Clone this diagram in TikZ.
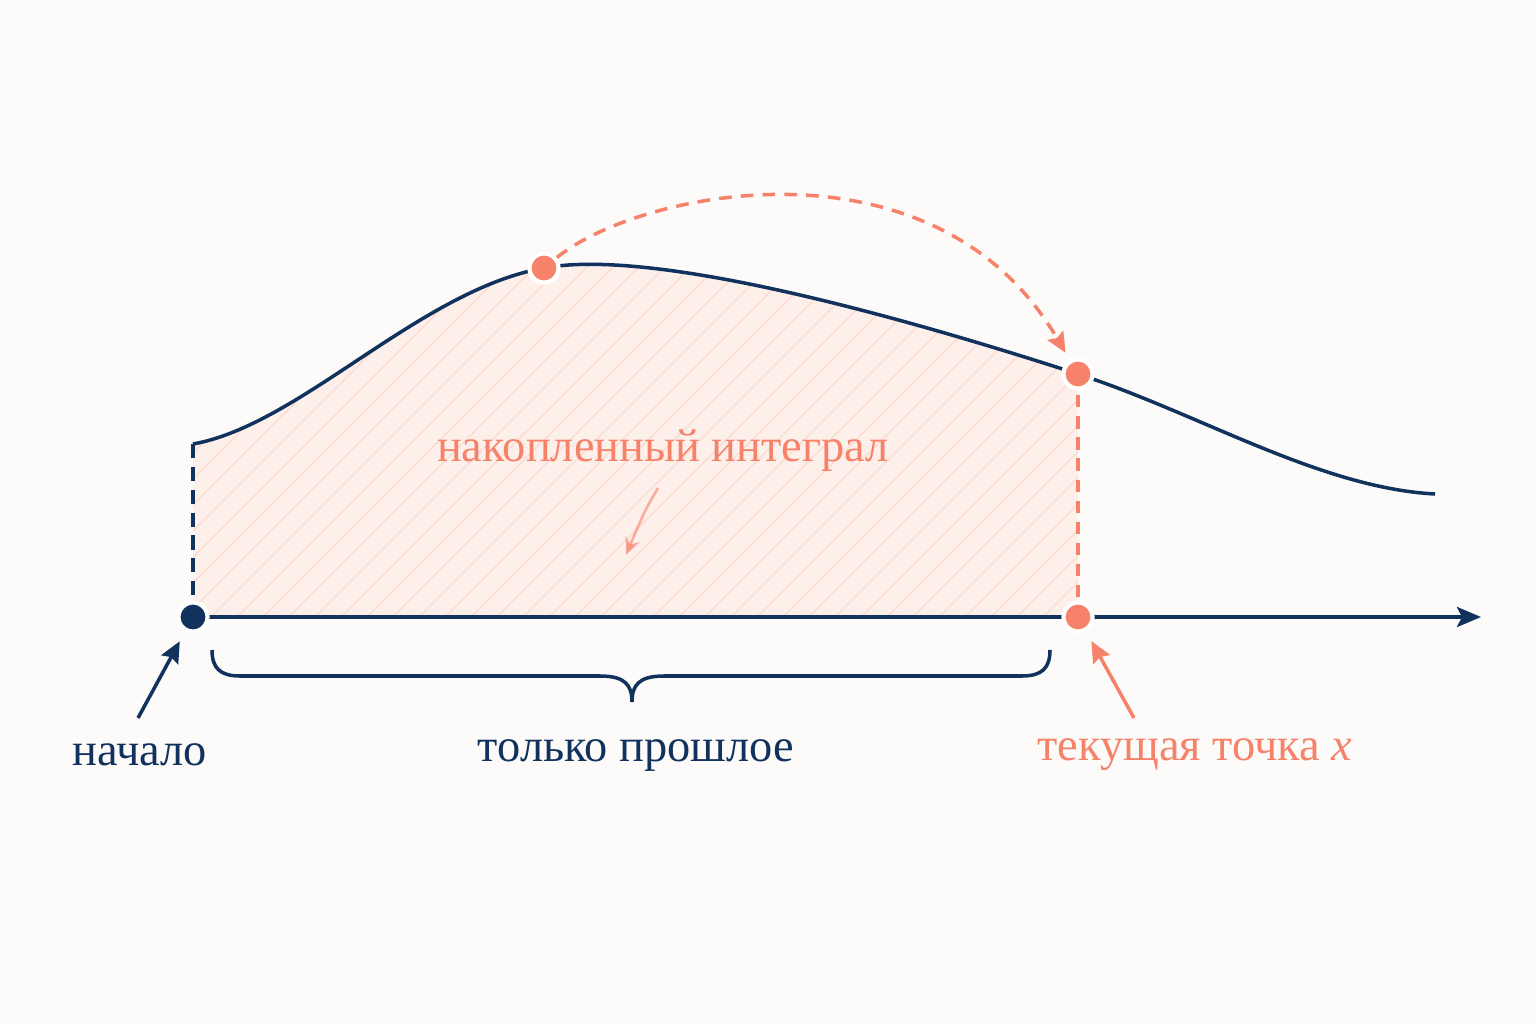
\documentclass[tikz,border=0pt]{standalone}
\usepackage{fontspec}
\setmainfont{Liberation Serif}
\usetikzlibrary{arrows.meta}
\definecolor{bgc}{HTML}{FCFBF9}
\definecolor{navy}{HTML}{12325E}
\definecolor{coral}{HTML}{F7826A}
\definecolor{fillc}{HTML}{FDF0EA}
\tikzset{
  dotc/.style={circle,fill=coral,draw=white,line width=1.2pt,minimum size=0.29cm,inner sep=0pt},
  dotn/.style={circle,fill=navy,draw=white,line width=1.2pt,minimum size=0.29cm,inner sep=0pt},
  curveline/.style={navy,line width=1pt},
  axisline/.style={navy,line width=1.15pt,-{Stealth[length=0.24cm,width=0.2cm,inset=0.05cm]}},
  lbl/.style={font=\fontsize{13.2}{15}\selectfont,inner sep=0pt},
  ptr/.style={line width=1pt,-{Stealth[length=0.21cm,width=0.19cm,inset=0.03cm]}},
}
\begin{document}
\begin{tikzpicture}[x=0.01cm,y=-0.01cm]
\useasboundingbox[fill=bgc] (0,0) rectangle (1536,1024);
% key points
\coordinate (c0) at (193,444);
\coordinate (c1) at (544,268);
\coordinate (c2) at (1078,374);
\coordinate (c3) at (1435,494);
\coordinate (b0) at (193,617);
\coordinate (b1) at (1078,617);
\coordinate (axend) at (1481,617);
% filled area
\fill[fillc] (b0) -- (c0) .. controls (300,425) and (420,290) .. (c1)
   .. controls (640,250) and (850,300) .. (c2) -- (b1) -- cycle;
\begin{scope}
\clip (b0) -- (c0) .. controls (300,425) and (420,290) .. (c1)
   .. controls (640,250) and (850,300) .. (c2) -- (b1) -- cycle;
\foreach \i in {-20,...,45} {
  \draw[coral,opacity=0.17,line width=0.45pt] (\i*26,620) -- ++(460,-460);
}
\end{scope}
% curve
\draw[curveline] (c0) .. controls (300,425) and (420,290) .. (c1)
   .. controls (640,250) and (850,300) .. (c2)
   .. controls (1198,413) and (1320,488) .. (c3);
% verticals
\draw[navy,line width=0.95pt,dash pattern=on 4pt off 2.5pt] (c0) -- (b0);
\draw[coral,line width=0.95pt,dash pattern=on 3.5pt off 2.5pt] (c2) -- (b1);
% axis
\draw[axisline] (b0) -- (axend);
% dots
\node[dotn] (origin) at (b0) {};
\node[dotc] (pa) at (c1) {};
\node[dotc] (px) at (c2) {};
\node[dotc] (pxa) at (b1) {};
% dashed arc
\draw[coral,line width=1pt,dash pattern=on 3.6pt off 2.6pt,-{Stealth[length=0.2cm,width=0.18cm,inset=0.03cm]},shorten >=0.08cm]
  (pa) .. controls (640,190) and (935,130) .. (px);
% labels
\node[lbl,navy] (lstart) at (140,755) {начало};
\node[lbl,navy] (lpast) at (636,755) {только прошлое};
\node[lbl,coral] (lcur) at (1195,755) {текущая точка \textit{x}};
\node[lbl,coral] (lint) at (663,451) {накопленный интеграл};
% pointers
\coordinate (ta) at (138,718);
\coordinate (tb) at (1134,718);
\draw[ptr,navy,shorten >=0.11cm] (ta) -- (origin);
\draw[ptr,coral,shorten >=0.11cm] (tb) -- (pxa);
% small arrow inside
\coordinate (sa) at (658,488);
\coordinate (sb) at (626,555);
\draw[coral,opacity=0.6,line width=0.75pt,-{Stealth[length=0.17cm,width=0.15cm]}] (sa) .. controls (645,510) .. (sb);
% brace
\coordinate (br0) at (212,650);
\coordinate (brtip) at (632,702);
\coordinate (br1) at (1050,650);
\draw[navy,line width=1pt] (br0) .. controls (212,668) and (220,676) .. (240,676) -- (600,676)
  .. controls (625,676) and (632,685) .. (brtip)
  .. controls (632,685) and (639,676) .. (664,676) -- (1022,676)
  .. controls (1042,676) and (1050,668) .. (br1);
\end{tikzpicture}
\end{document}
